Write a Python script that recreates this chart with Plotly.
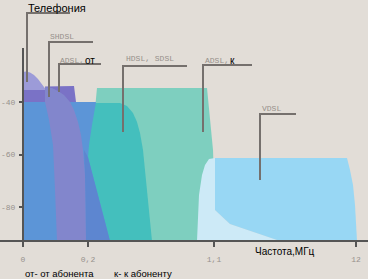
import plotly.graph_objects as go

# ---- data (x: schematic frequency position on axis, y: level, dB) ----
tick_pos = [0, 65, 191, 333]
tick_txt = ["0", "0,2", "1,1", "12"]
db_ticks = [-40, -60, -80]

adslk_x = [74, 184, 190, 193, 69, 69]
adslk_y = [-34.7, -34.7, -58.3, -93, -93, -54.5]

hdsl_x = [65, 97, 104, 110, 114, 117, 120, 123, 126, 129, 65]
hdsl_y = [-40.4, -40.4, -41.5, -44.2, -47.6, -51.8, -58.3, -69.7, -81.1, -93, -93]

tel_x = [0, 3, 7, 11, 15, 19, 23, 27, 32, 32, 0]
tel_y = [-28.6, -28.4, -28.8, -29.7, -31.2, -33.1, -35.0, -37.3, -40, -43, -43]

blue_x = [0, 73, 69, 66, 65, 87, 0]
blue_y = [-40, -40, -48.8, -56.4, -61.0, -93, -93]

band_x = [61, 65, 87, 63, 62]
band_y = [-58.3, -61.0, -93, -93, -67.8]

adslo_x = [0, 22, 22, 51, 53, 0]
adslo_y = [-35.4, -35.4, -34.1, -33.9, -40, -40]

shdsl_x = [22, 29, 35, 41, 47, 51, 55, 58, 60, 62, 63, 34, 32, 30, 26, 22]
shdsl_y = [-34.3, -34.7, -35.8, -37.3, -40, -43.0, -47.6, -52.6, -58.3, -67.8, -93,
           -93, -73.5, -56.4, -46.9, -40]

vdsl_lo_x = [192, 186, 182, 179, 176, 175, 174, 257, 207, 192]
vdsl_lo_y = [-61.3, -61.7, -64.0, -67.8, -75.4, -83.0, -93, -93, -86.5, -81.1]

vdsl_x = [192, 324, 327, 330, 332, 333, 334, 257, 207, 192]
vdsl_y = [-61.3, -61.3, -65.9, -71.6, -79.2, -86.9, -93, -93, -86.5, -81.1]

# leader lines: (x list, y list)
leaders = [
    ([4, 4, 47], [-32.4, -6.1, -6.1]),
    ([26, 26, 70], [-38.1, -17.1, -17.1]),
    ([36, 36, 78], [-36.2, -25.5, -25.5]),
    ([100, 100, 164], [-51.4, -26.3, -26.3]),
    ([180, 180, 229], [-51.4, -25.9, -25.9]),
    ([237, 237, 273], [-69.7, -44.6, -44.6]),
]

fills = [
    (adslk_x, adslk_y, "#7ecfbf"),
    (hdsl_x, hdsl_y, "#44bfbd"),
    (tel_x, tel_y, "#9c9bd8"),
    (blue_x, blue_y, "#5c95d7"),
    (band_x, band_y, "#5d86d0"),
    (adslo_x, adslo_y, "#7a72c6"),
    (shdsl_x, shdsl_y, "#8286cc"),
    (vdsl_lo_x, vdsl_lo_y, "#cdeaf7"),
    (vdsl_x, vdsl_y, "#98d7f4"),
]

fig = go.Figure()
for xs, ys, c in fills:
    fig.add_trace(go.Scatter(x=xs, y=ys, mode="lines", fill="toself",
                             fillcolor=c, line=dict(width=0, color=c),
                             hoverinfo="skip", showlegend=False))
for xs, ys in leaders:
    fig.add_trace(go.Scatter(x=xs, y=ys, mode="lines",
                             line=dict(width=2, color="#75706d"),
                             hoverinfo="skip", showlegend=False))

mono = "Liberation Mono"
sans = "Liberation Sans"
gray = "#97918c"
ann = [
    (34, -4.2, "Телефония", sans, 11, "black"),
    (38.5, -15.0, "SHDSL", mono, 8, gray),
    (48.5, -24.0, "ADSL,", mono, 8, gray),
    (67, -24.0, "от", sans, 10, "black"),
    (126.5, -23.6, "HDSL, SDSL", mono, 8, gray),
    (194, -24.0, "ADSL,", mono, 8, gray),
    (209, -24.0, "к", sans, 10, "black"),
    (248.5, -42.3, "VDSL", mono, 8, gray),
    (262, -96.8, "Частота,МГц", sans, 10, "black"),
    (36, -105.4, "от- от абонента", sans, 9.5, "black"),
    (120, -105.4, "к- к абоненту", sans, 9.5, "black"),
]
for x, y, t, f, s, c in ann:
    fig.add_annotation(x=x, y=y, text=t, showarrow=False,
                       font=dict(family=f, size=s, color=c),
                       xanchor="center", yanchor="middle")

fig.add_shape(type="line", x0=0, x1=0, y0=-19.4, y1=-93,
              line=dict(color="#555555", width=2), layer="above")

fig.update_layout(
    width=368, height=279,
    margin=dict(l=0, r=0, t=0, b=0),
    paper_bgcolor="#e2ddd7", plot_bgcolor="#e2ddd7",
    xaxis=dict(range=[-23, 345], anchor="free", position=0.1362,
               showgrid=False, zeroline=False, showline=True,
               linecolor="#555555", linewidth=2,
               tickvals=tick_pos, ticktext=tick_txt,
               ticks="outside", ticklen=5, tickwidth=2, tickcolor="#555555",
               ticklabelstandoff=5,
               tickfont=dict(family=mono, size=8, color=gray)),
    yaxis=dict(range=[-107.43, -1.14], anchor="free", position=0.0625,
               showgrid=False, zeroline=False, showline=False,
               tickvals=db_ticks, ticktext=[str(v) for v in db_ticks],
               ticks="outside", ticklen=4, tickwidth=2, tickcolor="#555555",
               ticklabelstandoff=2,
               tickfont=dict(family=mono, size=8, color=gray)),
)

fig.write_html("out.html")
